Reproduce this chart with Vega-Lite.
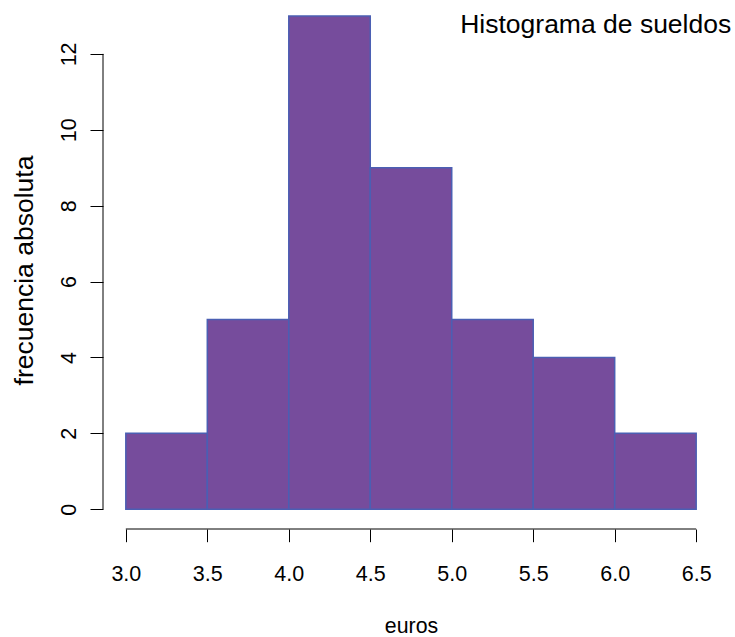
{
  "$schema": "https://vega.github.io/schema/vega-lite/v6.json",
  "width": 616,
  "height": 529,
  "autosize": {"type": "none"},
  "padding": {"left": 103, "top": 0, "right": 16, "bottom": 108},
  "background": "white",
  "config": {
    "view": {"stroke": null},
    "font": "Liberation Sans"
  },
  "layer": [
    {
      "data": {"values": [
        {"lo": 3.0, "hi": 3.5, "n": 2},
        {"lo": 3.5, "hi": 4.0, "n": 5},
        {"lo": 4.0, "hi": 4.5, "n": 13},
        {"lo": 4.5, "hi": 5.0, "n": 9},
        {"lo": 5.0, "hi": 5.5, "n": 5},
        {"lo": 5.5, "hi": 6.0, "n": 4},
        {"lo": 6.0, "hi": 6.5, "n": 2}
      ]},
      "mark": {"type": "rect", "fill": "#764c9c", "stroke": "#4b5fb3", "strokeWidth": 1.5, "clip": false},
      "encoding": {
        "x": {
          "field": "lo", "type": "quantitative",
          "scale": {"domain": [2.86, 6.64], "nice": false, "zero": false},
          "axis": {
            "values": [3.0, 3.5, 4.0, 4.5, 5.0, 5.5, 6.0, 6.5],
            "format": ".1f",
            "domain": false,
            "grid": false,
            "ticks": true,
            "tickSize": 12.7,
            "tickColor": "black",
            "tickWidth": 1,
            "labelFont": "Liberation Sans",
            "labelFontSize": 21.5,
            "labelColor": "black",
            "labelBaseline": "alphabetic",
            "labelPadding": 38.8,
            "labelFlush": false,
            "labelOverlap": false,
            "title": "euros",
            "titleFont": "Liberation Sans",
            "titleFontSize": 21.3,
            "titleFontWeight": "normal",
            "titleColor": "black",
            "titleBaseline": "alphabetic",
            "titleY": 103
          }
        },
        "x2": {"field": "hi"},
        "y": {
          "field": "n", "type": "quantitative",
          "scale": {"domain": [-0.52, 13.42], "nice": false, "zero": false},
          "axis": {
            "values": [0, 2, 4, 6, 8, 10, 12],
            "domain": false,
            "grid": false,
            "tickSize": 13,
            "tickColor": "black",
            "tickWidth": 1,
            "labelFont": "Liberation Sans",
            "labelFontSize": 21.5,
            "labelColor": "black",
            "labelAngle": -90,
            "labelAlign": "center",
            "labelBaseline": "alphabetic",
            "labelPadding": 15,
            "labelFlush": false,
            "labelOverlap": false,
            "title": "frecuencia absoluta",
            "titleFont": "Liberation Sans",
            "titleFontSize": 26.5,
            "titleFontWeight": "normal",
            "titleColor": "black",
            "titleAngle": -90,
            "titleAlign": "center",
            "titleBaseline": "alphabetic",
            "titleX": -71,
            "titleY": 270
          }
        },
        "y2": {"datum": 0}
      }
    },
    {
      "data": {"values": [{"x": 2.86, "y": 0, "y2": 12}]},
      "mark": {"type": "rule", "color": "black", "strokeWidth": 1, "clip": false},
      "encoding": {
        "x": {"field": "x", "type": "quantitative"},
        "y": {"field": "y", "type": "quantitative"},
        "y2": {"field": "y2"}
      }
    },
    {
      "data": {"values": [{"x": 3.0, "x2": 6.5, "y": -0.52}]},
      "mark": {"type": "rule", "color": "black", "strokeWidth": 1, "clip": false},
      "encoding": {
        "x": {"field": "x", "type": "quantitative"},
        "x2": {"field": "x2"},
        "y": {"field": "y", "type": "quantitative"}
      }
    },
    {
      "data": {"values": [{"label": "Histograma de sueldos"}]},
      "mark": {"type": "text", "align": "right", "baseline": "alphabetic", "fontSize": 26.5, "font": "Liberation Sans", "color": "black", "clip": false},
      "encoding": {
        "text": {"field": "label"},
        "x": {"datum": 6.715, "type": "quantitative"},
        "y": {"datum": 12.54, "type": "quantitative"}
      }
    }
  ]
}
